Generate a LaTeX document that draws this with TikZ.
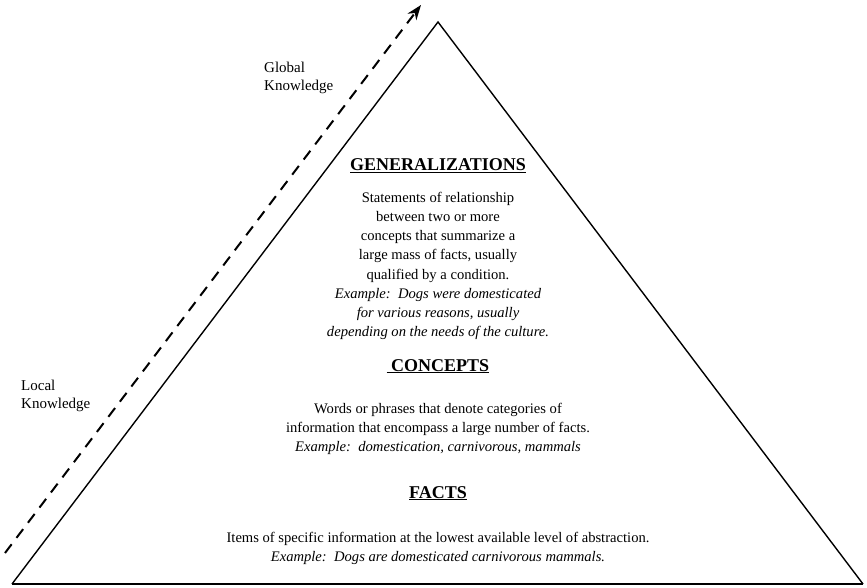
\documentclass[tikz,border=0pt]{standalone}
\usepackage{fontspec}
\setmainfont{Liberation Serif}
\usetikzlibrary{arrows.meta}
\begin{document}
\begin{tikzpicture}[x=1pt,y=1pt,
  heading/.style={font=\fontsize{18}{22}\selectfont\bfseries, inner sep=0pt, anchor=base},
  body/.style={font=\fontsize{14.6}{19.2}\selectfont, align=center, inner sep=0pt},
  side/.style={font=\fontsize{15}{18.5}\selectfont, align=left, inner sep=0pt, anchor=west},
  edge/.style={line width=1.4pt, line join=miter},
]
\useasboundingbox (0,0) rectangle (867,587);

% the pyramid
\coordinate (apex) at (438,565);
\coordinate (bl) at (12,3);
\coordinate (br) at (863,3);
\draw[edge] (bl) -- (apex) -- (br);
\draw[line width=2.6pt] (bl) -- (br);

% local-to-global dashed arrow
\coordinate (lo) at (5,34);
\coordinate (hi) at (421,582);
\draw[line width=2pt, dash pattern=on 11pt off 8pt,
      -{Stealth[length=15pt,width=11pt]}] (lo) -- (hi);

\node[side] (global) at (264,509) {Global\\Knowledge};
\node[side] (local) at (21,191) {Local\\Knowledge};

% generalizations
\node[heading] (genh) at (438,416) {\underline{GENERALIZATIONS}};
\node[body] (genb) at (438,321) {Statements of relationship\\
  between two or more\\
  concepts that summarize a\\
  large mass of facts, usually\\
  qualified by a condition.\\
  \textit{Example:\ \ Dogs were domesticated}\\
  \textit{for various reasons, usually}\\
  \textit{depending on the needs of the culture.}};

% concepts
\node[heading] (conh) at (438,216) {\underline{\ CONCEPTS}};
\node[body] (conb) at (438,158) {Words or phrases that denote categories of\\
  information that encompass a large number of facts.\\
  \textit{Example:\ \ domestication, carnivorous, mammals}};

% facts
\node[heading] (facth) at (438,89) {\underline{FACTS}};
\node[body] (factb) at (438,38.5) {Items of specific information at the lowest available level of abstraction.\\
  \textit{Example:\ \ Dogs are domesticated carnivorous mammals.}};
\end{tikzpicture}
\end{document}
